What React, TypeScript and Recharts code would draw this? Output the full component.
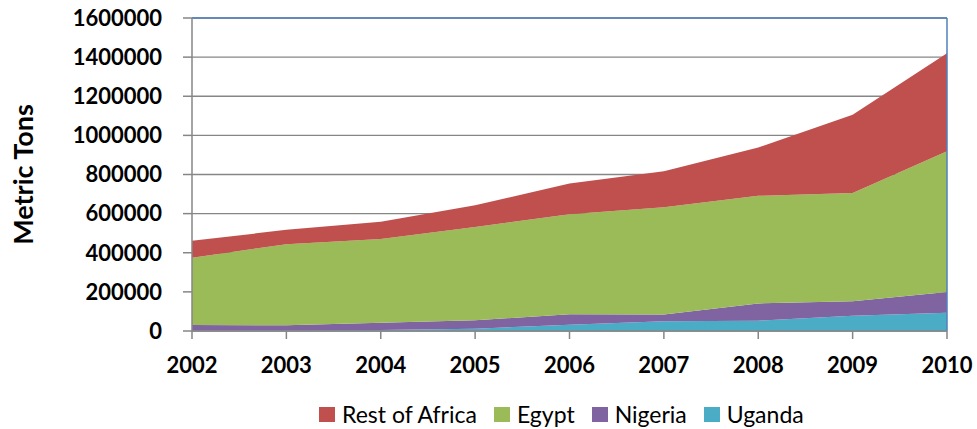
import { AreaChart, Area, XAxis, YAxis, CartesianGrid, Legend, ReferenceLine } from 'recharts'

const years = ['2002', '2003', '2004', '2005', '2006', '2007', '2008', '2009', '2010']
const uganda = [2000, 3000, 5000, 12000, 32000, 50000, 53000, 78000, 93000]
const nigeria = [29000, 26000, 37000, 43000, 53000, 34000, 88000, 74000, 106000]
const egypt = [343000, 415000, 428000, 477000, 512000, 549000, 550000, 554000, 720000]
const restOfAfrica = [87000, 73000, 88000, 111000, 157000, 184000, 247000, 400000, 501000]
const yTicks = [0, 200000, 400000, 600000, 800000, 1000000, 1200000, 1400000, 1600000]

const series = [
  { key: 'restOfAfrica', name: 'Rest of Africa', color: '#C0504D' },
  { key: 'egypt', name: 'Egypt', color: '#9BBB59' },
  { key: 'nigeria', name: 'Nigeria', color: '#8064A2' },
  { key: 'uganda', name: 'Uganda', color: '#4BACC6' },
]

const data = years.map((year, i) => ({
  year,
  uganda: uganda[i],
  nigeria: nigeria[i],
  egypt: egypt[i],
  restOfAfrica: restOfAfrica[i],
}))

const axisGray = '#868686'
const tickFont = { fill: '#000', fontSize: 22, fontWeight: 700, fontFamily: 'Lato' }

function LegendBox() {
  return (
    <div style={{ display: 'flex', alignItems: 'center', height: 30, fontFamily: 'Lato', fontSize: 23 }}>
      {series.map((s) => (
        <div key={s.key} style={{ display: 'flex', alignItems: 'center', marginRight: 17 }}>
          <span style={{ width: 16, height: 15, background: s.color, display: 'inline-block', marginRight: 7 }} />
          <span style={{ color: '#000' }}>{s.name}</span>
        </div>
      ))}
    </div>
  )
}

function YTitle(props: any) {
  const vb = props.viewBox || { y: 18, height: 313 }
  const cy = vb.y + vb.height / 2
  return (
    <text
      x={22}
      y={cy}
      transform={`rotate(-90, 22, ${cy})`}
      textAnchor="middle"
      dominantBaseline="central"
      style={{ fontFamily: 'Lato', fontSize: 27, fontWeight: 700, fill: '#000' }}
    >
      Metric Tons
    </text>
  )
}

export default function App() {
  return (
    <div style={{ position: 'absolute', left: 0, top: 0, background: '#fff' }}>
      <AreaChart
        width={977}
        height={429}
        data={data}
        margin={{ top: 18, right: 30, left: 0, bottom: 8 }}
        style={{ fontFamily: 'Lato' }}
      >
        <CartesianGrid vertical={false} stroke={axisGray} strokeWidth={1.3} />
        <XAxis
          dataKey="year"
          height={60}
          stroke={axisGray}
          strokeWidth={1.5}
          tickSize={8}
          tickMargin={18}
          tick={tickFont}
          interval={0}
        />
        <YAxis
          width={192}
          domain={[0, 1600000]}
          ticks={yTicks}
          stroke={axisGray}
          strokeWidth={1.5}
          tickSize={9}
          tickMargin={21}
          tick={tickFont}
          interval={0}
          label={{ content: YTitle }}
        />
        <Area type="linear" dataKey="uganda" name="Uganda" stackId="1" stroke="none" fill="#4BACC6" fillOpacity={1} isAnimationActive={false} />
        <Area type="linear" dataKey="nigeria" name="Nigeria" stackId="1" stroke="none" fill="#8064A2" fillOpacity={1} isAnimationActive={false} />
        <Area type="linear" dataKey="egypt" name="Egypt" stackId="1" stroke="none" fill="#9BBB59" fillOpacity={1} isAnimationActive={false} />
        <Area type="linear" dataKey="restOfAfrica" name="Rest of Africa" stackId="1" stroke="none" fill="#C0504D" fillOpacity={1} isAnimationActive={false} />
        <ReferenceLine y={1600000} stroke="#4F81BD" strokeWidth={1.5} />
        <ReferenceLine x="2010" stroke="#4F81BD" strokeWidth={1.5} />
        <Legend
          verticalAlign="bottom"
          content={() => <LegendBox />}
          wrapperStyle={{ left: 319, top: 399, bottom: 'auto', width: 'auto', height: 30 }}
        />
      </AreaChart>
    </div>
  )
}
